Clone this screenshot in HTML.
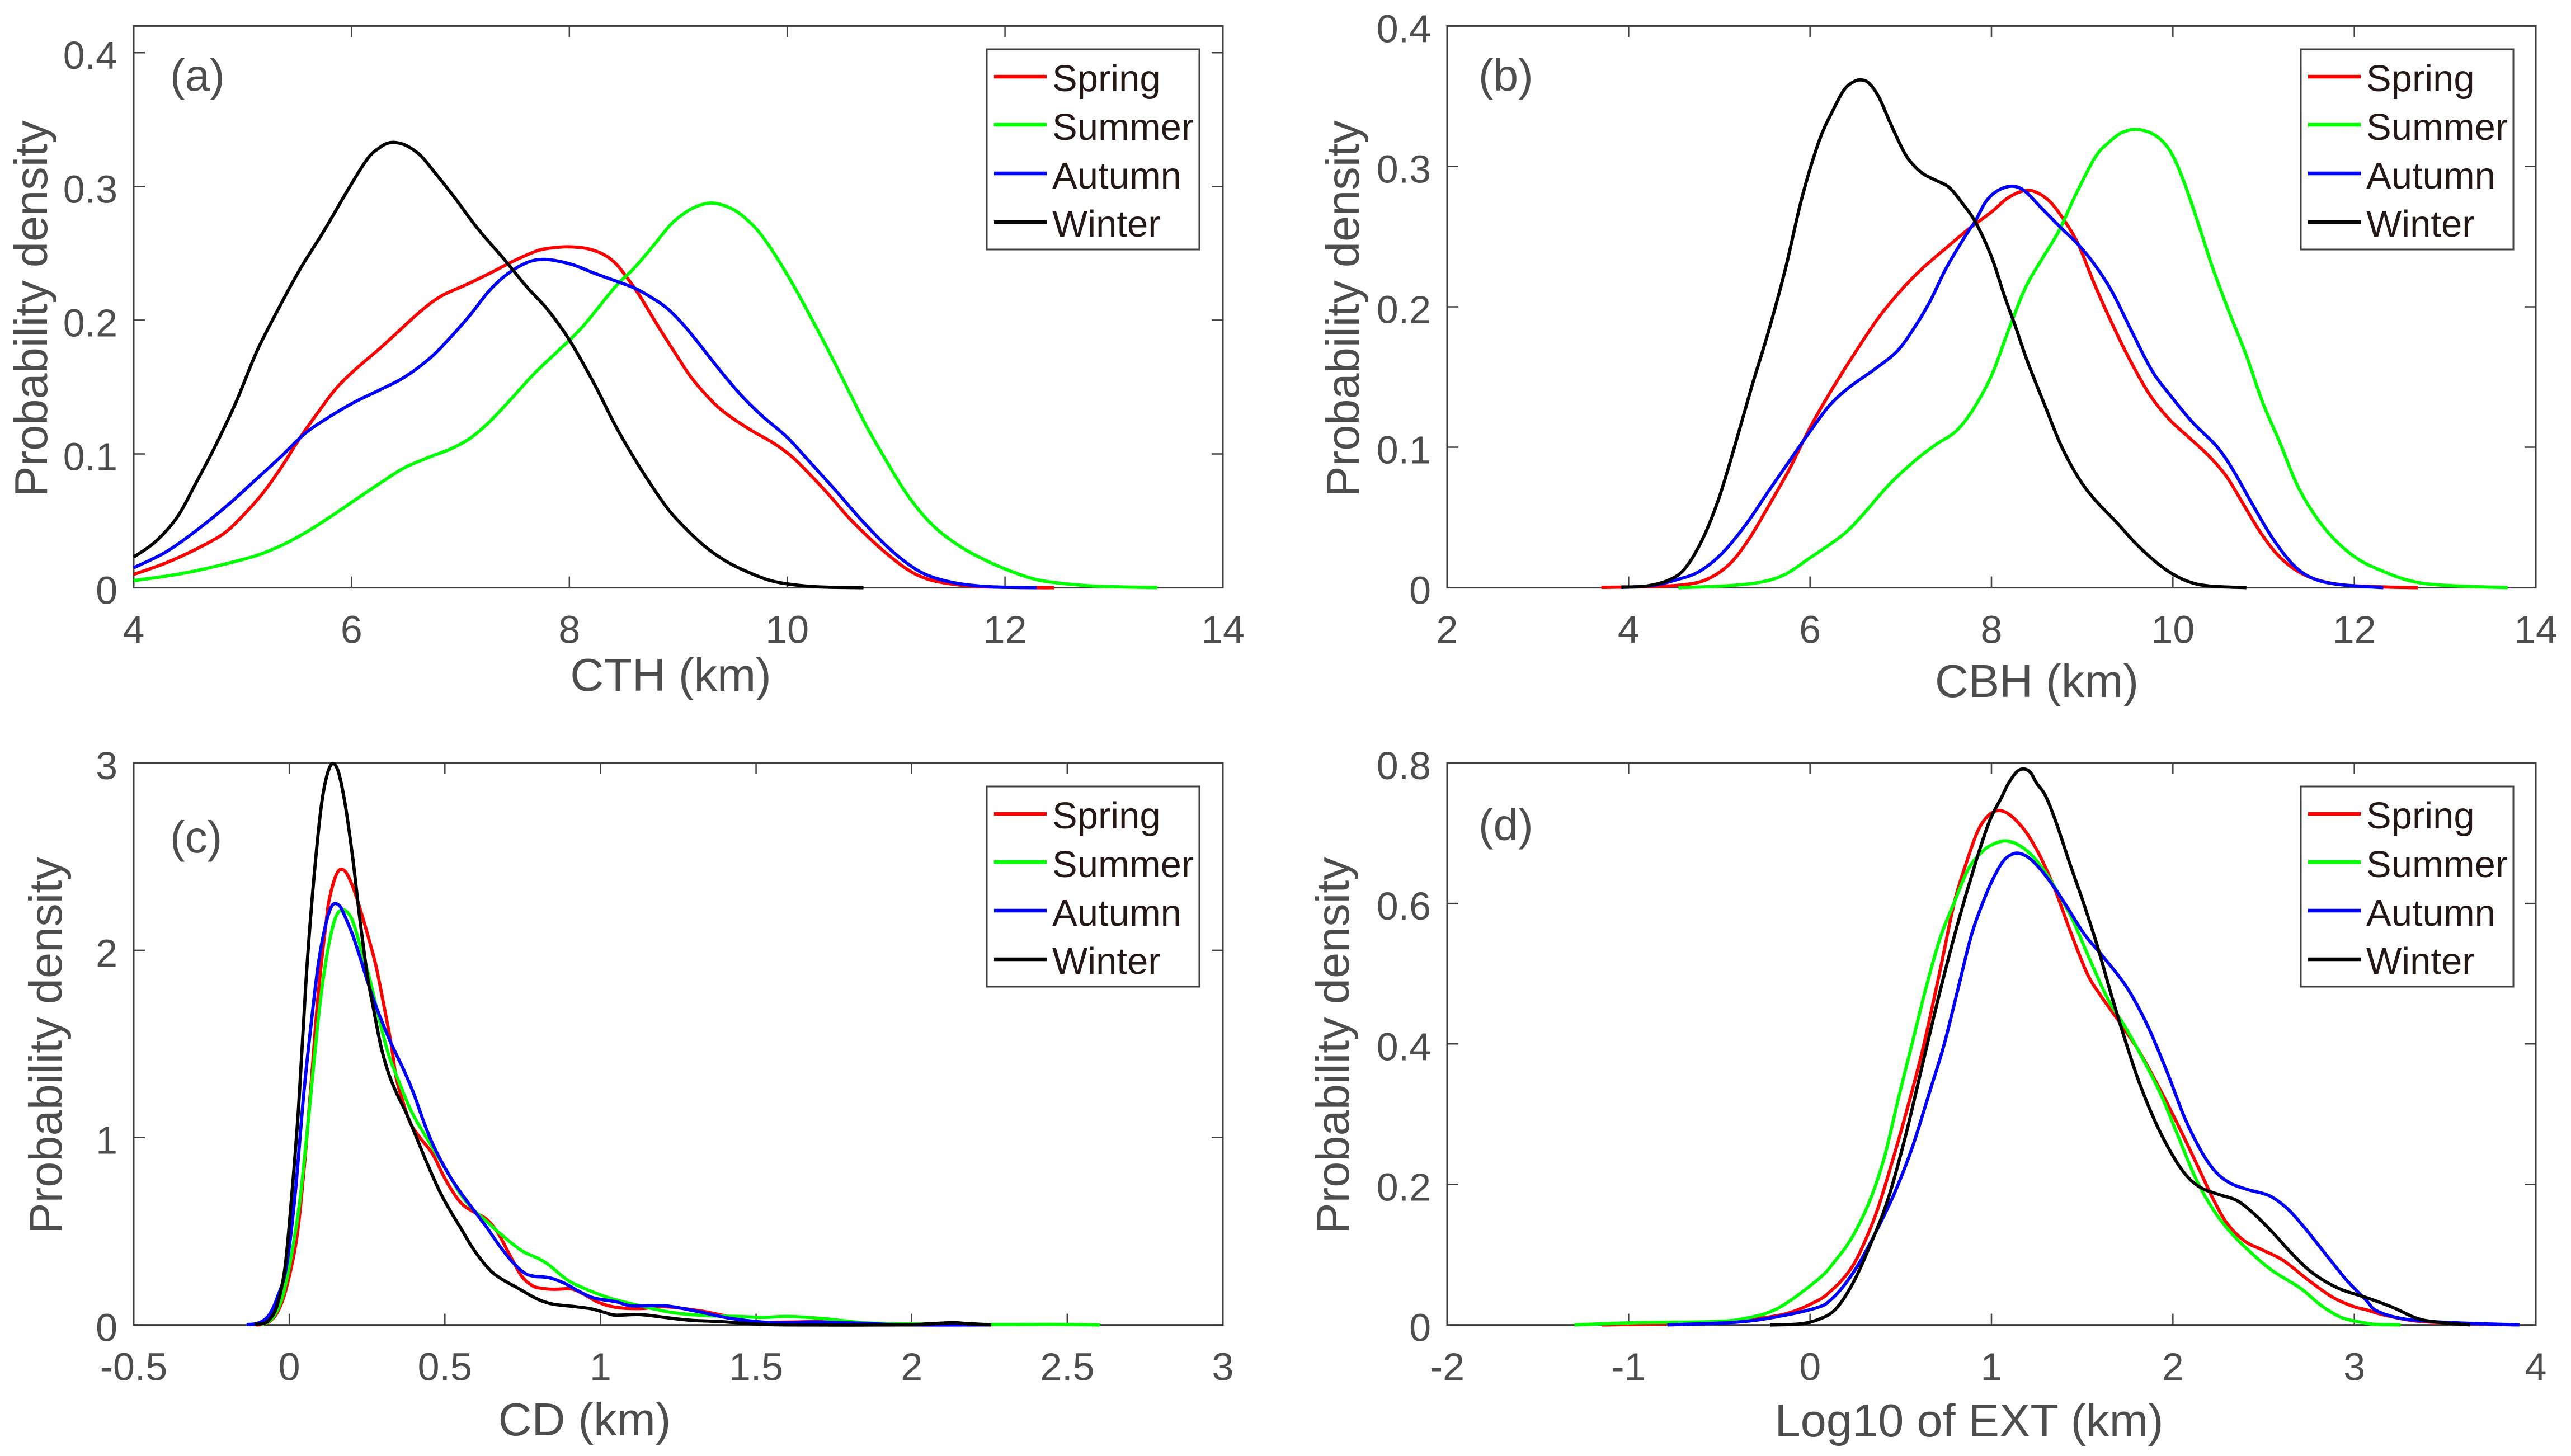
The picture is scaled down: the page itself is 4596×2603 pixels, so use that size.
<!DOCTYPE html>
<html lang="en">
<head>
<meta charset="utf-8">
<title>Seasonal probability density of cloud properties</title>
<style>
html,body{margin:0;padding:0;background:#fff;}
svg{display:block;}
text{font-family:"Liberation Sans",Arial,sans-serif;}
.tick-label{font-size:70px;fill:#4d4d4d;}
.axis-title{font-size:83px;fill:#4d4d4d;}
.panel-tag{font-size:80px;fill:#4d4d4d;}
.legend-text{font-size:67px;fill:#231815;}
.frame{fill:none;stroke:#404040;stroke-width:3;}
.legend-box{fill:#fff;stroke:#404040;stroke-width:3;}
</style>
</head>
<body>
<svg id="figure" xmlns="http://www.w3.org/2000/svg" width="4596" height="2603" viewBox="0 0 4596 2603">
<rect width="4596" height="2603" fill="#fff"/>

<g id="panel-a">
  <g class="marks"></g>
  <text class="panel-tag" x="304" y="162">(a)</text>
  <text class="axis-title" x="1199" y="1235" text-anchor="middle">CTH (km)</text>
  <text class="axis-title" transform="translate(84,552) rotate(-90)" text-anchor="middle">Probability density</text>
</g>
<g id="panel-b">
  <g class="marks"></g>
  <text class="panel-tag" x="2643" y="162">(b)</text>
  <text class="axis-title" x="3641" y="1246" text-anchor="middle">CBH (km)</text>
  <text class="axis-title" transform="translate(2429,552) rotate(-90)" text-anchor="middle">Probability density</text>
</g>
<g id="panel-c">
  <g class="marks"></g>
  <text class="panel-tag" x="304" y="1524">(c)</text>
  <text class="axis-title" x="1045" y="2566" text-anchor="middle">CD (km)</text>
  <text class="axis-title" transform="translate(110,1869) rotate(-90)" text-anchor="middle">Probability density</text>
</g>
<g id="panel-d">
  <g class="marks"></g>
  <text class="panel-tag" x="2643" y="1502">(d)</text>
  <text class="axis-title" x="3520" y="2568" text-anchor="middle">Log10 of EXT (km)</text>
  <text class="axis-title" transform="translate(2411,1869) rotate(-90)" text-anchor="middle">Probability density</text>
</g>

<!-- legends -->
<g transform="translate(1764,88)">
  <rect class="legend-box" width="380" height="358"/>
  <g><line x1="13" x2="107" y1="49" y2="49" stroke="#ff0000" stroke-width="6.5"/><text class="legend-text" x="117" y="75">Spring</text></g>
  <g><line x1="13" x2="107" y1="135" y2="135" stroke="#00ff00" stroke-width="6.5"/><text class="legend-text" x="117" y="162">Summer</text></g>
  <g><line x1="13" x2="107" y1="222" y2="222" stroke="#0000ff" stroke-width="6.5"/><text class="legend-text" x="117" y="249">Autumn</text></g>
  <g><line x1="13" x2="107" y1="309" y2="309" stroke="#000000" stroke-width="6.5"/><text class="legend-text" x="117" y="335">Winter</text></g>
</g>
<g transform="translate(4113,88)">
  <rect class="legend-box" width="380" height="358"/>
  <g><line x1="13" x2="107" y1="49" y2="49" stroke="#ff0000" stroke-width="6.5"/><text class="legend-text" x="117" y="75">Spring</text></g>
  <g><line x1="13" x2="107" y1="135" y2="135" stroke="#00ff00" stroke-width="6.5"/><text class="legend-text" x="117" y="162">Summer</text></g>
  <g><line x1="13" x2="107" y1="222" y2="222" stroke="#0000ff" stroke-width="6.5"/><text class="legend-text" x="117" y="249">Autumn</text></g>
  <g><line x1="13" x2="107" y1="309" y2="309" stroke="#000000" stroke-width="6.5"/><text class="legend-text" x="117" y="335">Winter</text></g>
</g>
<g transform="translate(1764,1406)">
  <rect class="legend-box" width="380" height="358"/>
  <g><line x1="13" x2="107" y1="49" y2="49" stroke="#ff0000" stroke-width="6.5"/><text class="legend-text" x="117" y="75">Spring</text></g>
  <g><line x1="13" x2="107" y1="135" y2="135" stroke="#00ff00" stroke-width="6.5"/><text class="legend-text" x="117" y="162">Summer</text></g>
  <g><line x1="13" x2="107" y1="222" y2="222" stroke="#0000ff" stroke-width="6.5"/><text class="legend-text" x="117" y="249">Autumn</text></g>
  <g><line x1="13" x2="107" y1="309" y2="309" stroke="#000000" stroke-width="6.5"/><text class="legend-text" x="117" y="335">Winter</text></g>
</g>
<g transform="translate(4113,1406)">
  <rect class="legend-box" width="380" height="358"/>
  <g><line x1="13" x2="107" y1="49" y2="49" stroke="#ff0000" stroke-width="6.5"/><text class="legend-text" x="117" y="75">Spring</text></g>
  <g><line x1="13" x2="107" y1="135" y2="135" stroke="#00ff00" stroke-width="6.5"/><text class="legend-text" x="117" y="162">Summer</text></g>
  <g><line x1="13" x2="107" y1="222" y2="222" stroke="#0000ff" stroke-width="6.5"/><text class="legend-text" x="117" y="249">Autumn</text></g>
  <g><line x1="13" x2="107" y1="309" y2="309" stroke="#000000" stroke-width="6.5"/><text class="legend-text" x="117" y="335">Winter</text></g>
</g>
</svg>

<script>
/* ---------- tick labels ---------- */
const xTicksA = ['4','6','8','10','12','14'];
const yTicksA = ['0','0.1','0.2','0.3','0.4'];
const xTicksB = ['2','4','6','8','10','12','14'];
const yTicksB = ['0','0.1','0.2','0.3','0.4'];
const xTicksC = ['-0.5','0','0.5','1','1.5','2','2.5','3'];
const yTicksC = ['0','1','2','3'];
const xTicksD = ['-2','-1','0','1','2','3','4'];
const yTicksD = ['0','0.2','0.4','0.6','0.8'];

/* ---------- axis ranges ---------- */
const xRangeA = [4,14];
const yRangeA = [0,0.42];
const xRangeB = [2,14];
const yRangeB = [0,0.4];
const xRangeC = [-0.5,3];
const yRangeC = [0,3];
const xRangeD = [-2,4];
const yRangeD = [0,0.8];

/* ---------- panel (a) CTH ---------- */
const springXA = [4,4.29,4.57,4.82,4.99,5.19,5.36,5.53,5.7,5.86,6.03,6.26,6.43,6.63,6.82,7.05,7.27,7.5,7.72,7.89,8.01,8.17,8.32,8.43,8.53,8.64,8.81,8.98,9.12,9.29,9.43,9.66,9.88,10.05,10.22,10.39,10.56,10.73,10.9,11.1,11.29,11.55,11.86,12.31,12.45];
const springYA = [.0099,.0183,.0287,.0401,.0528,.0711,.0906,.1124,.1319,.1491,.1628,.1789,.1915,.2064,.2179,.2264,.2351,.2447,.2523,.2544,.2548,.2534,.2489,.242,.2317,.219,.1961,.1743,.1571,.1411,.1307,.1181,.1078,.0975,.0837,.0688,.0528,.039,.0264,.0138,.0064,.0023,.0005,0,0];
const summerXA = [4,4.29,4.57,4.85,5.13,5.36,5.58,5.81,6.03,6.26,6.48,6.71,6.91,7.08,7.25,7.44,7.67,7.89,8.12,8.42,8.59,8.76,8.92,9.04,9.15,9.27,9.38,9.52,9.63,9.74,9.88,10.05,10.22,10.39,10.56,10.73,10.9,11.07,11.24,11.41,11.63,11.86,12.08,12.33,12.72,13,13.4];
const summerYA = [.0053,.0085,.0126,.0179,.0241,.0317,.0413,.0532,.0654,.078,.0894,.0975,.1037,.1112,.1227,.1388,.1594,.1766,.195,.2248,.2385,.2546,.2706,.2791,.2844,.2874,.2867,.2821,.2752,.2661,.25,.2271,.2018,.1755,.1479,.1204,.0963,.0734,.055,.0413,.0287,.019,.0115,.0053,.0017,.0007,0];
const autumnXA = [4,4.29,4.57,4.85,5.13,5.36,5.58,5.81,6.03,6.26,6.48,6.71,6.88,7.08,7.27,7.44,7.61,7.74,7.86,8.03,8.23,8.42,8.61,8.78,8.9,9.04,9.18,9.38,9.57,9.77,10,10.22,10.45,10.67,10.9,11.1,11.29,11.55,11.86,12.29];
const autumnYA = [.0149,.0264,.0424,.0608,.0814,.0986,.1158,.1284,.1388,.1479,.1571,.1709,.1846,.203,.2225,.2351,.2431,.2454,.2447,.2415,.2351,.2295,.2236,.2156,.2087,.1972,.1835,.1628,.1445,.1284,.1124,.0929,.0722,.0516,.0321,.0183,.0092,.0034,.0007,0];
const winterXA = [4,4.2,4.4,4.57,4.74,4.94,5.13,5.33,5.53,5.75,5.98,6.15,6.26,6.33,6.41,6.51,6.63,6.75,6.94,7.16,7.39,7.61,7.78,7.95,8.08,8.25,8.42,8.59,8.76,8.92,9.09,9.26,9.43,9.6,9.83,10.05,10.31,10.7];
const winterYA = [.0229,.0344,.0528,.078,.1044,.1388,.1766,.2087,.2385,.2672,.2993,.3211,.3291,.3323,.3328,.3303,.3234,.3119,.2924,.2683,.2466,.2248,.2099,.1915,.1743,.1491,.1216,.0975,.0757,.0573,.0424,.0298,.0202,.0131,.0057,.0023,.0005,0];

/* ---------- panel (b) CBH ---------- */
const springXB = [3.7,4.18,4.55,4.84,5.1,5.32,5.54,5.77,5.99,6.21,6.5,6.76,7.02,7.24,7.54,7.76,8,8.18,8.37,8.51,8.66,8.81,8.96,9.14,9.33,9.51,9.74,9.96,10.18,10.4,10.59,10.77,10.96,11.14,11.33,11.55,11.85,12.33,12.7];
const springYB = [.0002,.0007,.0017,.0053,.016,.0339,.0578,.0841,.1127,.1378,.1677,.1927,.213,.2274,.2441,.256,.2675,.2775,.2828,.2811,.2739,.2608,.2441,.2154,.188,.1641,.1378,.1199,.1068,.0936,.0793,.0602,.0399,.0244,.0136,.0064,.0021,.0005,0];
const summerXB = [4.55,5.1,5.47,5.73,5.99,6.36,6.58,6.87,7.17,7.39,7.61,7.8,8,8.18,8.37,8.55,8.74,8.92,9.14,9.29,9.44,9.6,9.77,9.9,10.01,10.14,10.29,10.44,10.62,10.81,10.99,11.18,11.36,11.55,11.77,12.03,12.29,12.62,12.99,13.69];
const summerYB = [0,.0014,.0041,.0096,.0208,.0375,.0518,.0733,.0912,.102,.1115,.1271,.1509,.182,.213,.2333,.2536,.2787,.3062,.3169,.3241,.3263,.3234,.3169,.3062,.2859,.2572,.2274,.1963,.1653,.1318,.1032,.0745,.053,.0351,.0208,.0124,.0048,.0017,0];
const autumnXB = [3.92,4.25,4.51,4.77,5.03,5.29,5.54,5.77,5.99,6.21,6.43,6.69,6.95,7.13,7.32,7.5,7.72,7.82,7.94,8.07,8.23,8.37,8.55,8.77,8.96,9.14,9.33,9.55,9.77,9.99,10.22,10.48,10.66,10.88,11.1,11.33,11.55,11.85,12.32];
const autumnYB = [.0002,.0014,.0053,.0112,.0244,.0447,.0685,.09,.1103,.1294,.1426,.1545,.1677,.1832,.2035,.2274,.2513,.2608,.2751,.2828,.2859,.2823,.2704,.256,.2441,.2298,.2107,.182,.1545,.1354,.1175,.1008,.0841,.059,.0351,.016,.0064,.0021,0];
const winterXB = [3.92,4.18,4.44,4.62,4.81,4.99,5.17,5.36,5.54,5.73,5.91,6.1,6.25,6.37,6.47,6.56,6.65,6.76,6.89,7.04,7.15,7.26,7.39,7.54,7.69,7.83,8,8.14,8.26,8.4,8.59,8.77,8.96,9.14,9.37,9.59,9.81,9.99,10.18,10.4,10.81];
const winterYB = [.0005,.001,.0053,.0136,.0339,.0626,.1008,.1438,.182,.2274,.2775,.3181,.3396,.354,.3599,.3616,.3592,.3492,.3301,.3098,.3002,.2942,.29,.2847,.2728,.2596,.2357,.2083,.1868,.1605,.1295,.1008,.0781,.0626,.0471,.0315,.0184,.01,.0041,.0012,0];

/* ---------- panel (c) CD ---------- */
const springXC = [-.107,-.083,-.059,-.035,-.01,.022,.046,.07,.094,.118,.13,.154,.178,.203,.227,.255,.279,.303,.327,.343,.363,.387,.416,.46,.496,.532,.56,.596,.637,.673,.705,.745,.777,.801,.85,.906,.946,.994,1.049,1.127,1.207,1.312,1.39,1.497,1.6,1.71,1.866,2.024,2.13,2.256];
const springYC = [0,.004,.024,.078,.194,.444,.804,1.284,1.784,2.144,2.284,2.414,2.424,2.344,2.224,2.064,1.914,1.714,1.504,1.324,1.204,1.084,1.008,.914,.794,.694,.638,.6,.56,.484,.384,.264,.214,.198,.19,.192,.164,.12,.094,.087,.097,.077,.052,.015,.015,.017,.007,.005,.005,0];
const summerXC = [-.091,-.055,-.023,.006,.034,.062,.09,.114,.141,.166,.199,.231,.259,.287,.319,.351,.391,.432,.472,.512,.552,.592,.633,.673,.713,.753,.801,.834,.89,.93,.994,1.049,1.127,1.233,1.338,1.444,1.523,1.6,1.708,1.84,1.97,2.13,2.26,2.447,2.605];
const summerYC = [0,.034,.144,.364,.664,1.104,1.584,1.904,2.134,2.214,2.174,2.004,1.844,1.644,1.444,1.304,1.144,1.024,.914,.804,.694,.614,.554,.494,.438,.39,.354,.32,.244,.208,.164,.134,.102,.065,.05,.045,.04,.045,.035,.012,.005,.007,.002,.003,0];
const autumnXC = [-.137,-.107,-.079,-.059,-.039,-.01,.018,.046,.07,.094,.118,.138,.16,.178,.203,.231,.259,.287,.327,.367,.4,.432,.464,.512,.552,.592,.633,.673,.713,.753,.785,.834,.882,.93,.978,1.049,1.1,1.207,1.312,1.418,1.55,1.708,1.866,1.97,2.25];
const autumnYC = [.002,.006,.028,.068,.144,.304,.684,1.224,1.604,1.934,2.144,2.24,2.24,2.184,2.084,1.944,1.794,1.664,1.504,1.364,1.234,1.084,.954,.804,.704,.614,.524,.428,.344,.28,.26,.252,.224,.18,.144,.124,.102,.102,.072,.035,.012,.015,.007,0,0];
const winterXC = [-.111,-.083,-.063,-.039,-.014,.006,.03,.054,.078,.104,.13,.154,.178,.203,.227,.251,.271,.295,.319,.343,.375,.408,.44,.48,.512,.552,.584,.609,.633,.657,.689,.737,.785,.818,.85,.914,.97,1.018,1.049,1.127,1.207,1.286,1.39,1.497,1.6,1.97,2.05,2.13,2.18,2.256];
const winterYC = [.004,.008,.03,.104,.304,.654,1.164,1.844,2.364,2.784,2.978,2.97,2.794,2.504,2.164,1.864,1.684,1.484,1.344,1.244,1.134,1.004,.874,.724,.624,.514,.424,.364,.314,.274,.238,.194,.148,.124,.11,.098,.086,.064,.052,.055,.04,.025,.017,.005,0,0,.005,.012,.007,0];

/* ---------- panel (d) Log10 EXT ---------- */
const springXD = [-1.147,-.628,-.357,-.131,.044,.121,.179,.237,.295,.372,.449,.526,.622,.719,.796,.873,.931,.988,1.037,1.085,1.133,1.191,1.249,1.297,1.355,1.432,1.528,1.605,1.701,1.817,1.933,2.049,2.145,2.222,2.299,2.395,2.491,2.607,2.742,2.877,2.992,3.066,3.165,3.345,3.616,3.887];
const springYD = [0,.0026,.0073,.016,.0348,.0498,.0647,.0846,.1144,.1642,.2289,.2985,.393,.5075,.602,.6667,.7065,.7264,.7323,.7289,.7189,.7015,.6766,.6517,.6169,.5622,.5,.4677,.4328,.3881,.3333,.2736,.2214,.1791,.1443,.1194,.107,.092,.0647,.0398,.0264,.0214,.014,.0053,.002,0];
const summerXD = [-1.298,-.944,-.537,-.357,-.176,.044,.141,.237,.333,.41,.488,.565,.642,.719,.796,.873,.951,1.008,1.075,1.143,1.22,1.297,1.374,1.451,1.547,1.644,1.74,1.836,1.933,2.029,2.125,2.222,2.318,2.434,2.549,2.703,2.819,2.934,3.066,3.12,3.255];
const summerYD = [0,.0033,.0046,.0093,.0238,.0647,.092,.1269,.1791,.2388,.3234,.403,.4826,.5522,.602,.6493,.6741,.6841,.6891,.6841,.6692,.6443,.6119,.5746,.5174,.4627,.4229,.3781,.3284,.2687,.209,.1642,.1318,.102,.0771,.0522,.0274,.01,.0025,.0007,0];
const autumnXD = [-.786,-.402,-.176,.044,.121,.198,.275,.372,.468,.565,.661,.738,.815,.892,.969,1.017,1.066,1.114,1.158,1.21,1.268,1.335,1.412,1.509,1.605,1.721,1.798,1.875,1.971,2.067,2.164,2.241,2.318,2.414,2.53,2.626,2.723,2.838,2.954,3.066,3.12,3.255,3.436,3.661,3.91];
const autumnYD = [0,.004,.0119,.0249,.0373,.0597,.0896,.1368,.1891,.2537,.3333,.398,.4776,.5572,.6119,.6393,.6607,.6701,.6711,.6642,.6493,.6269,.597,.5572,.5274,.49,.4577,.4179,.3582,.2935,.2438,.2164,.2015,.1925,.1841,.1667,.1393,.102,.0647,.0348,.0205,.0093,.0046,.002,0];
const winterXD = [-.221,-.063,.044,.141,.237,.333,.43,.526,.622,.719,.815,.911,.988,1.056,1.094,1.14,1.178,1.215,1.249,1.297,1.355,1.432,1.509,1.586,1.663,1.74,1.817,1.913,2.01,2.087,2.164,2.26,2.356,2.453,2.549,2.645,2.742,2.838,2.934,3.066,3.21,3.345,3.458,3.639];
const winterYD = [0,.0013,.0075,.0224,.0597,.1144,.1791,.2687,.3731,.4776,.5721,.6567,.7164,.7512,.7711,.7875,.7915,.7865,.7711,.7537,.7164,.6567,.5995,.5373,.4677,.403,.3433,.2836,.2363,.209,.194,.1851,.1766,.1567,.1318,.1045,.0796,.0622,.0498,.0388,.0251,.0093,.004,0];

const SVGNS = 'http://www.w3.org/2000/svg';

function axisX(range, left, right) {
  return function (v) { return left + (v - range[0]) / (range[1] - range[0]) * (right - left); };
}
function axisY(range, top, bottom) {
  return function (v) { return bottom - (v - range[0]) / (range[1] - range[0]) * (bottom - top); };
}
function curvePath(xs, ys, sx, sy) {
  const p = xs.map(function (x, i) { return [sx(x), sy(ys[i])]; });
  let d = 'M' + p[0][0].toFixed(1) + ' ' + p[0][1].toFixed(1);
  for (let i = 0; i < p.length - 1; i++) {
    const a = p[Math.max(i - 1, 0)], b = p[i], c = p[i + 1], e = p[Math.min(i + 2, p.length - 1)];
    const c1x = b[0] + (c[0] - a[0]) / 6, c1y = b[1] + (c[1] - a[1]) / 6;
    const c2x = c[0] - (e[0] - b[0]) / 6, c2y = c[1] - (e[1] - b[1]) / 6;
    d += 'C' + c1x.toFixed(1) + ' ' + c1y.toFixed(1) + ' ' + c2x.toFixed(1) + ' ' + c2y.toFixed(1) + ' ' + c[0].toFixed(1) + ' ' + c[1].toFixed(1);
  }
  return d;
}
function drawLine(parent, x1, y1, x2, y2) {
  const el = document.createElementNS(SVGNS, 'line');
  el.setAttribute('x1', x1);
  el.setAttribute('y1', y1);
  el.setAttribute('x2', x2);
  el.setAttribute('y2', y2);
  el.setAttribute('stroke', '#404040');
  el.setAttribute('stroke-width', '2.5');
  
  
  parent.appendChild(el);
}
function drawTickText(parent, x, y, anchor, label, name) {
  const el = document.createElementNS(SVGNS, 'text');
  el.setAttribute('x', x);
  el.setAttribute('y', y);
  el.setAttribute('text-anchor', anchor);
  el.setAttribute('class', 'tick-label');
  
  
  el.textContent = label;
  parent.appendChild(el);
}
function drawSeries(parent, xs, ys, sx, sy, color, name) {
  const el = document.createElementNS(SVGNS, 'path');
  el.setAttribute('d', curvePath(xs, ys, sx, sy));
  el.setAttribute('fill', 'none');
  el.setAttribute('stroke', color);
  el.setAttribute('stroke-width', '5.8');
  el.setAttribute('stroke-linejoin', 'round');
  
  
  parent.appendChild(el);
}
function drawPanel(id, left, right, top, bottom, xRange, yRange, xTicks, yTicks, series) {
  const g = document.querySelector('#' + id + ' .marks');
  const sx = axisX(xRange, left, right);
  const sy = axisY(yRange, top, bottom);
  xTicks.forEach(function (t) {
    const px = sx(parseFloat(t));
    drawLine(g, px, bottom, px, bottom - 20);
    drawLine(g, px, top, px, top + 20);
    drawTickText(g, px, bottom + 99, 'middle', t, 'x-tick-label');
  });
  yTicks.forEach(function (t) {
    const py = sy(parseFloat(t));
    drawLine(g, left, py, left + 20, py);
    drawLine(g, right, py, right - 20, py);
    drawTickText(g, left - 29, py + 29, 'end', t, 'y-tick-label');
  });
  const frame = document.createElementNS(SVGNS, 'rect');
  frame.setAttribute('x', left);
  frame.setAttribute('y', top);
  frame.setAttribute('width', right - left);
  frame.setAttribute('height', bottom - top);
  frame.setAttribute('class', 'frame');
  
  
  g.appendChild(frame);
  series.forEach(function (s) {
    drawSeries(g, s[0], s[1], sx, sy, s[2], s[3]);
  });
}

drawPanel('panel-a', 239, 2186, 46.4, 1050.6, xRangeA, yRangeA, xTicksA, yTicksA, [
  [springXA, springYA, '#ff0000', 'spring-line'],
  [summerXA, summerYA, '#00ff00', 'summer-line'],
  [autumnXA, autumnYA, '#0000ff', 'autumn-line'],
  [winterXA, winterYA, '#000000', 'winter-line']
]);
drawPanel('panel-b', 2587, 4533, 46.4, 1050.6, xRangeB, yRangeB, xTicksB, yTicksB, [
  [springXB, springYB, '#ff0000', 'spring-line'],
  [summerXB, summerYB, '#00ff00', 'summer-line'],
  [autumnXB, autumnYB, '#0000ff', 'autumn-line'],
  [winterXB, winterYB, '#000000', 'winter-line']
]);
drawPanel('panel-c', 239, 2186, 1364, 2368.6, xRangeC, yRangeC, xTicksC, yTicksC, [
  [springXC, springYC, '#ff0000', 'spring-line'],
  [summerXC, summerYC, '#00ff00', 'summer-line'],
  [autumnXC, autumnYC, '#0000ff', 'autumn-line'],
  [winterXC, winterYC, '#000000', 'winter-line']
]);
drawPanel('panel-d', 2587, 4533, 1364, 2368.6, xRangeD, yRangeD, xTicksD, yTicksD, [
  [springXD, springYD, '#ff0000', 'spring-line'],
  [summerXD, summerYD, '#00ff00', 'summer-line'],
  [autumnXD, autumnYD, '#0000ff', 'autumn-line'],
  [winterXD, winterYD, '#000000', 'winter-line']
]);
</script>
</body>
</html>
